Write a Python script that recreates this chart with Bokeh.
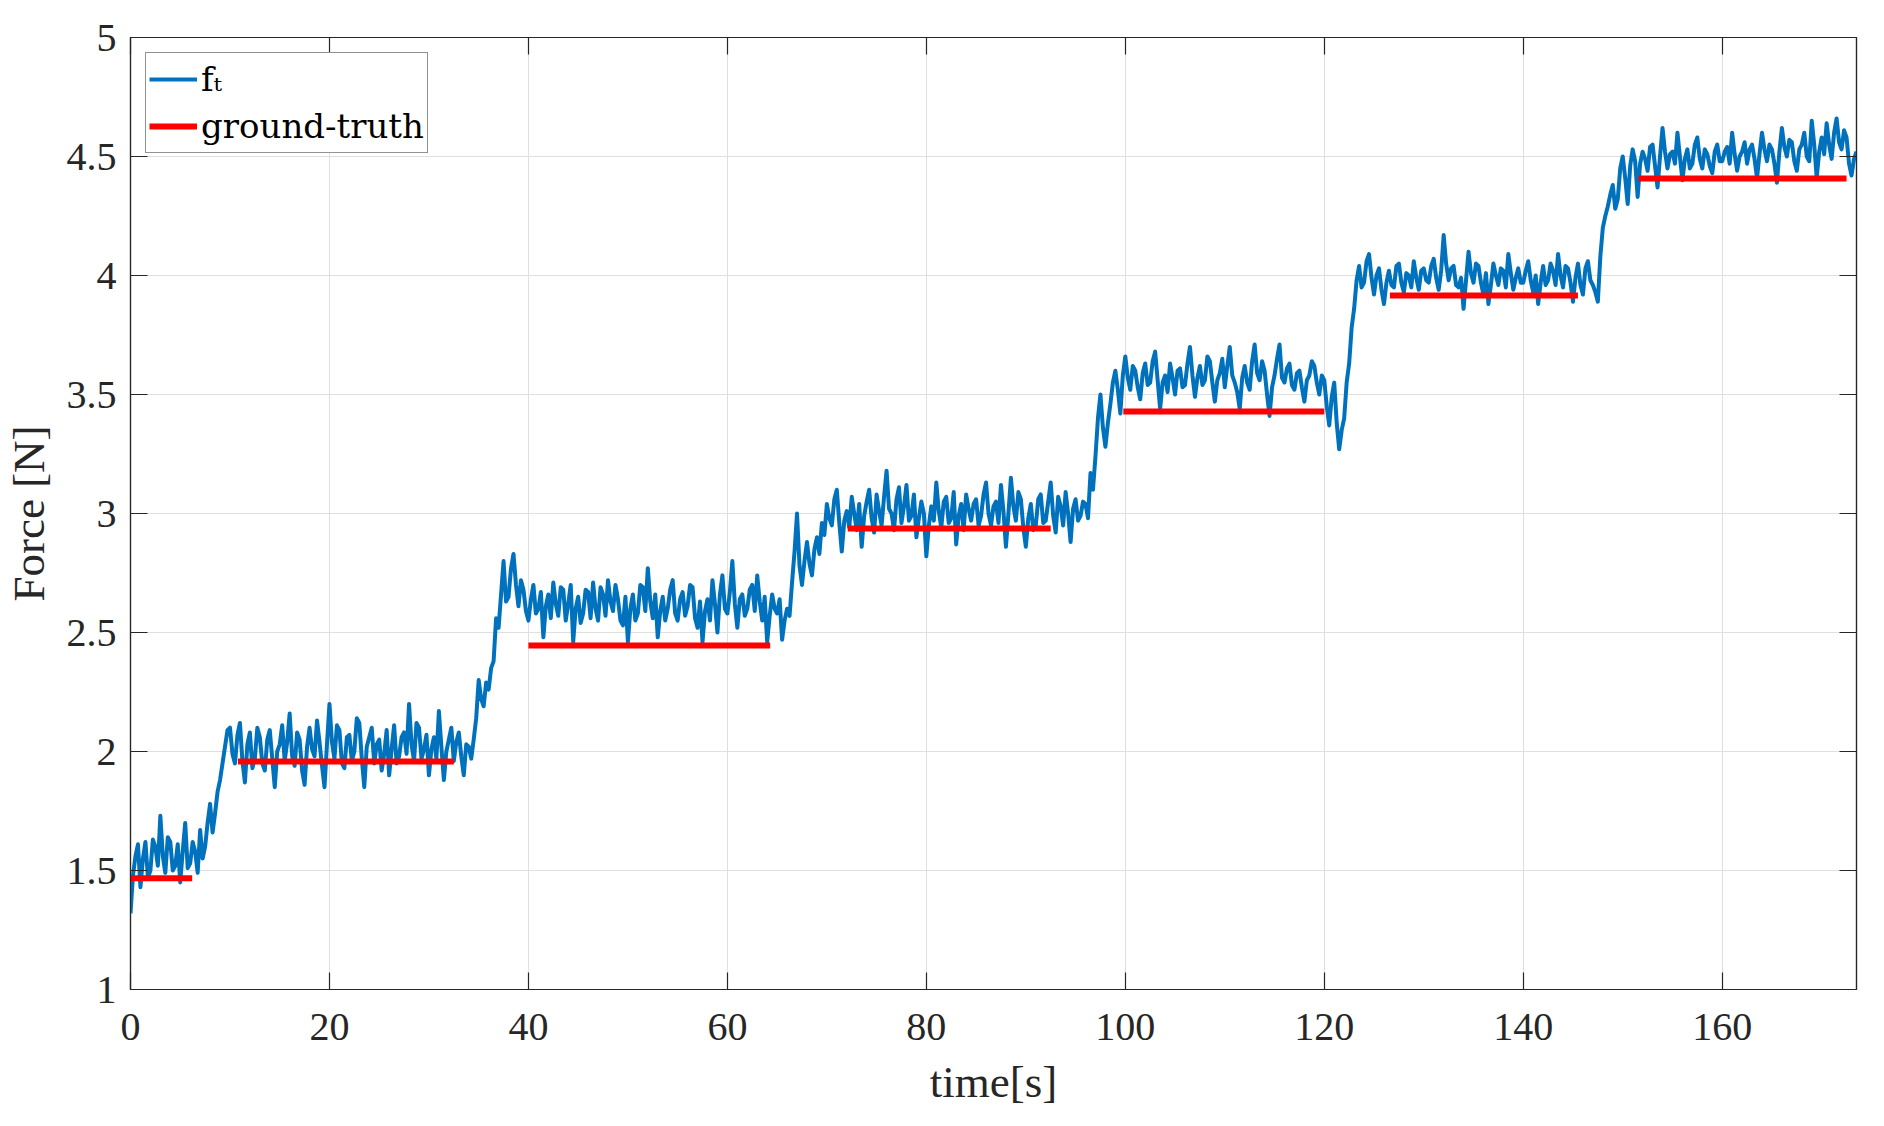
from bokeh.plotting import figure
from bokeh.models import (Range1d, LinearAxis, FixedTicker, NumeralTickFormatter,
                          CustomJSTickFormatter, Legend, LegendItem)
from bokeh.embed import file_html
from bokeh.resources import INLINE

# ---------------- data ----------------
time_step = 0.25  # s between samples of the force trace
force = [
    # 0 - 10 s
    1.32, 1.48, 1.56, 1.61, 1.43, 1.55, 1.62, 1.47, 1.50, 1.63,
    1.60, 1.52, 1.73, 1.56, 1.49, 1.64, 1.62, 1.50, 1.52, 1.61,
    1.45, 1.58, 1.70, 1.51, 1.53, 1.62, 1.58, 1.49, 1.67, 1.55,
    1.60, 1.70, 1.78, 1.66, 1.74, 1.83, 1.88, 1.95, 2.02, 2.09,
    # 10 - 20 s
    2.10, 1.99, 1.95, 2.07, 2.12, 1.96, 1.87, 2.03, 2.08, 1.93,
    1.97, 2.10, 2.06, 1.95, 1.92, 2.05, 2.09, 1.97, 1.85, 2.00,
    2.03, 2.11, 1.96, 2.04, 2.16, 1.98, 1.94, 2.08, 2.05, 1.92,
    1.86, 2.02, 2.10, 2.01, 1.98, 2.13, 2.04, 1.94, 1.85, 2.03,
    # 20 - 30 s
    2.20, 2.04, 1.97, 2.11, 2.09, 1.95, 1.93, 2.06, 2.07, 1.96,
    2.00, 2.14, 2.12, 1.97, 1.85, 2.02, 2.06, 2.10, 1.95, 2.03,
    2.05, 1.92, 1.99, 2.09, 1.90, 2.01, 2.11, 1.95, 1.98, 2.06,
    2.08, 1.99, 2.20, 2.03, 1.96, 2.12, 2.10, 1.97, 2.01, 2.07,
    # 30 - 40 s
    1.90, 2.01, 2.06, 1.97, 2.17, 2.02, 1.88, 2.00, 2.05, 2.10,
    1.96, 2.04, 2.08, 1.98, 1.90, 2.03, 2.02, 1.97, 2.05, 2.14,
    2.30, 2.22, 2.19, 2.29, 2.26, 2.35, 2.38, 2.56, 2.52, 2.66,
    2.80, 2.63, 2.65, 2.77, 2.83, 2.70, 2.61, 2.72, 2.68, 2.59,
    # 40 - 50 s
    2.55, 2.64, 2.70, 2.58, 2.60, 2.67, 2.48, 2.61, 2.66, 2.56,
    2.71, 2.62, 2.57, 2.69, 2.68, 2.55, 2.62, 2.70, 2.46, 2.60,
    2.65, 2.54, 2.58, 2.68, 2.67, 2.56, 2.71, 2.60, 2.55, 2.69,
    2.66, 2.57, 2.72, 2.63, 2.59, 2.70, 2.64, 2.55, 2.53, 2.65,
    # 50 - 60 s
    2.46, 2.60, 2.66, 2.55, 2.58, 2.70, 2.69, 2.59, 2.77, 2.63,
    2.56, 2.66, 2.48, 2.59, 2.65, 2.55, 2.60, 2.68, 2.72, 2.58,
    2.55, 2.64, 2.67, 2.57, 2.61, 2.70, 2.69, 2.56, 2.52, 2.63,
    2.46, 2.59, 2.64, 2.55, 2.72, 2.62, 2.50, 2.66, 2.74, 2.60,
    # 60 - 70 s
    2.58, 2.67, 2.80, 2.62, 2.52, 2.64, 2.66, 2.57, 2.60, 2.68,
    2.70, 2.59, 2.74, 2.63, 2.55, 2.65, 2.46, 2.57, 2.66, 2.60,
    2.58, 2.64, 2.47, 2.55, 2.60, 2.57, 2.71, 2.84, 3.00, 2.78,
    2.70, 2.80, 2.88, 2.79, 2.74, 2.85, 2.90, 2.83, 2.96, 2.91,
    # 70 - 80 s
    3.04, 2.98, 2.95, 3.06, 3.10, 2.96, 2.84, 2.97, 3.01, 2.94,
    3.07, 3.00, 2.93, 3.04, 2.86, 2.99, 3.05, 3.10, 2.98, 2.92,
    3.08, 3.01, 2.95, 3.07, 3.18, 3.02, 3.00, 2.93, 3.06, 3.11,
    2.96, 3.03, 3.12, 2.97, 2.99, 3.08, 2.90, 2.98, 3.05, 3.00,
    # 80 - 90 s
    2.82, 2.95, 3.03, 2.97, 3.13, 3.01, 2.94, 3.05, 3.07, 2.96,
    2.98, 3.09, 2.87, 2.99, 3.04, 2.93, 3.08, 3.02, 2.97, 3.04,
    3.06, 2.95, 2.99, 3.08, 3.13, 3.00, 2.95, 3.03, 3.05, 2.96,
    3.12, 3.01, 2.86, 3.00, 3.15, 3.03, 2.97, 3.09, 3.06, 2.94,
    # 90 - 100 s
    2.86, 2.98, 3.04, 2.93, 2.95, 3.06, 3.08, 2.96, 2.97, 3.05,
    3.13, 2.99, 2.92, 3.07, 3.03, 2.95, 3.09, 3.00, 2.88, 3.02,
    3.06, 2.97, 2.99, 3.05, 3.04, 2.98, 3.17, 3.10, 3.24, 3.40,
    3.50, 3.36, 3.28, 3.38, 3.46, 3.55, 3.60, 3.52, 3.42, 3.58,
    # 100 - 110 s
    3.66, 3.57, 3.52, 3.62, 3.60, 3.53, 3.48, 3.59, 3.63, 3.54,
    3.55, 3.64, 3.68, 3.56, 3.44, 3.55, 3.58, 3.51, 3.63, 3.57,
    3.50, 3.60, 3.61, 3.53, 3.54, 3.63, 3.70, 3.58, 3.49, 3.57,
    3.62, 3.54, 3.56, 3.66, 3.64, 3.55, 3.47, 3.56, 3.59, 3.65,
    # 110 - 120 s
    3.53, 3.62, 3.70, 3.58, 3.55, 3.51, 3.44, 3.57, 3.62, 3.55,
    3.52, 3.64, 3.71, 3.59, 3.56, 3.64, 3.60, 3.50, 3.41, 3.53,
    3.58, 3.65, 3.71, 3.57, 3.55, 3.61, 3.63, 3.54, 3.52, 3.59,
    3.60, 3.53, 3.47, 3.56, 3.58, 3.64, 3.62, 3.55, 3.50, 3.58,
    # 120 - 130 s
    3.56, 3.45, 3.37, 3.49, 3.55, 3.38, 3.27, 3.35, 3.40, 3.55,
    3.63, 3.78, 3.86, 3.98, 4.04, 3.95, 3.97, 4.06, 4.09, 3.99,
    3.92, 4.00, 4.03, 3.94, 3.88, 3.97, 4.02, 3.96, 3.95, 4.04,
    4.05, 3.97, 3.93, 4.01, 4.00, 3.95, 4.06, 3.99, 3.94, 4.02,
    # 130 - 140 s
    4.03, 3.98, 3.97, 4.04, 4.07, 3.99, 3.94, 4.02, 4.17, 4.05,
    3.98, 4.03, 4.04, 3.96, 3.95, 3.99, 3.86, 3.98, 4.10, 4.01,
    3.97, 4.05, 4.04, 3.97, 3.92, 4.01, 3.88, 3.96, 4.05, 4.00,
    3.96, 4.03, 4.02, 3.95, 4.09, 4.01, 3.94, 3.99, 4.03, 3.97,
    # 140 - 150 s
    3.97, 4.02, 4.06, 3.98, 3.93, 4.00, 3.88, 3.97, 4.04, 3.96,
    3.98, 4.05, 4.02, 3.96, 4.09, 4.00, 3.95, 4.04, 4.03, 3.97,
    3.89, 3.99, 4.05, 3.96, 3.92, 4.03, 4.06, 3.98, 3.96, 3.93,
    3.89, 4.08, 4.20, 4.25, 4.29, 4.34, 4.38, 4.28, 4.32, 4.45,
    # 150 - 160 s
    4.50, 4.41, 4.30, 4.46, 4.53, 4.48, 4.33, 4.47, 4.52, 4.49,
    4.44, 4.54, 4.55, 4.46, 4.37, 4.50, 4.62, 4.52, 4.45, 4.51,
    4.52, 4.47, 4.60, 4.50, 4.40, 4.49, 4.53, 4.45, 4.47, 4.55,
    4.58, 4.49, 4.45, 4.53, 4.51, 4.46, 4.43, 4.52, 4.55, 4.48,
    # 160 - 170 s
    4.48, 4.52, 4.54, 4.47, 4.60, 4.51, 4.44, 4.50, 4.52, 4.56,
    4.47, 4.53, 4.55, 4.49, 4.41, 4.51, 4.60, 4.53, 4.48, 4.55,
    4.53, 4.47, 4.39, 4.52, 4.62, 4.54, 4.50, 4.57, 4.56, 4.48,
    4.44, 4.53, 4.55, 4.60, 4.50, 4.48, 4.65, 4.55, 4.41, 4.52,
    # 170 - 173.5 s
    4.58, 4.51, 4.64, 4.55, 4.49, 4.60, 4.66, 4.56, 4.53, 4.61,
    4.58, 4.47, 4.42, 4.49, 4.52,
]
time = [i * time_step for i in range(len(force))]

gt_start = [0.0, 10.8, 40.0, 72.1, 99.8, 126.6, 151.6]
gt_end = [6.2, 32.5, 64.3, 92.5, 120.0, 145.5, 172.5]
gt_value = [1.467, 1.958, 2.445, 2.937, 3.429, 3.916, 4.408]

x_ticks = [0, 20, 40, 60, 80, 100, 120, 140, 160]
y_ticks = [1, 1.5, 2, 2.5, 3, 3.5, 4, 4.5, 5]
x_limits = (0, 173.5)
y_limits = (1, 5)

x_label = "time[s]"
y_label = "Force [N]"
series_labels = ["f\u209c", "ground-truth"]

# ---------------- styling ----------------
AX = "#262626"
FONT = "Liberation Serif"
LEG_FONT = "DejaVu Serif"
BLUE = "#0072BD"
RED = "#FF0000"

p = figure(frame_width=1726, frame_height=952,
           x_range=Range1d(*x_limits), y_range=Range1d(*y_limits),
           output_backend="svg", toolbar_location=None,
           min_border_left=124, min_border_right=18,
           min_border_top=37, min_border_bottom=120,
           background_fill_color="white", border_fill_color="white")
p.outline_line_color = AX
p.outline_line_width = 1.2

xt = FixedTicker(ticks=x_ticks)
yt = FixedTicker(ticks=y_ticks)


def style_axis(ax, ticker, show_labels):
    ax.ticker = ticker
    ax.axis_line_color = AX
    ax.axis_line_width = 1.2
    ax.major_tick_line_color = AX
    ax.major_tick_line_width = 1.2
    ax.major_tick_in = 17
    ax.major_tick_out = 0
    ax.minor_tick_in = 0
    ax.minor_tick_out = 0
    ax.major_label_text_font = FONT
    ax.major_label_text_color = AX
    if show_labels:
        ax.major_label_text_font_size = "40px"
    else:
        ax.formatter = CustomJSTickFormatter(code="return '';")
        ax.major_label_text_font_size = "1px"
        ax.major_label_standoff = 0


style_axis(p.xaxis[0], xt, True)
style_axis(p.yaxis[0], yt, True)
p.xaxis[0].major_label_standoff = 24
p.yaxis[0].major_label_standoff = 14
p.yaxis[0].formatter = NumeralTickFormatter(format="0.[0]")

for ax, lab in ((p.xaxis[0], x_label), (p.yaxis[0], y_label)):
    ax.axis_label = lab
    ax.axis_label_text_font = FONT
    ax.axis_label_text_font_size = "45px"
    ax.axis_label_text_font_style = "normal"
    ax.axis_label_text_color = AX
p.xaxis[0].axis_label_standoff = 14
p.yaxis[0].axis_label_standoff = 10

top_ax = LinearAxis()
style_axis(top_ax, xt, False)
p.add_layout(top_ax, "above")
right_ax = LinearAxis()
style_axis(right_ax, yt, False)
p.add_layout(right_ax, "right")

p.xgrid.ticker = xt
p.ygrid.ticker = yt
for g in (p.xgrid[0], p.ygrid[0]):
    g.grid_line_color = "#dfdfdf"
    g.grid_line_width = 1

# ---------------- glyphs ----------------
line_r = p.line(time, force, line_color=BLUE, line_width=4, line_join="round")
seg_r = p.segment(x0=gt_start, y0=gt_value, x1=gt_end, y1=gt_value,
                  line_color=RED, line_width=6)

legend = Legend(items=[LegendItem(label=series_labels[0], renderers=[line_r]),
                       LegendItem(label=series_labels[1], renderers=[seg_r])],
                location="top_left", margin=15, padding=3, spacing=1,
                label_height=46, glyph_height=46, glyph_width=48,
                label_standoff=4,
                label_text_font=LEG_FONT, label_text_font_size="34px",
                label_text_color="black",
                border_line_color=AX, border_line_width=1.2,
                background_fill_color="white", background_fill_alpha=1)
p.add_layout(legend)

open("out.html", "w").write(file_html(p, INLINE))
